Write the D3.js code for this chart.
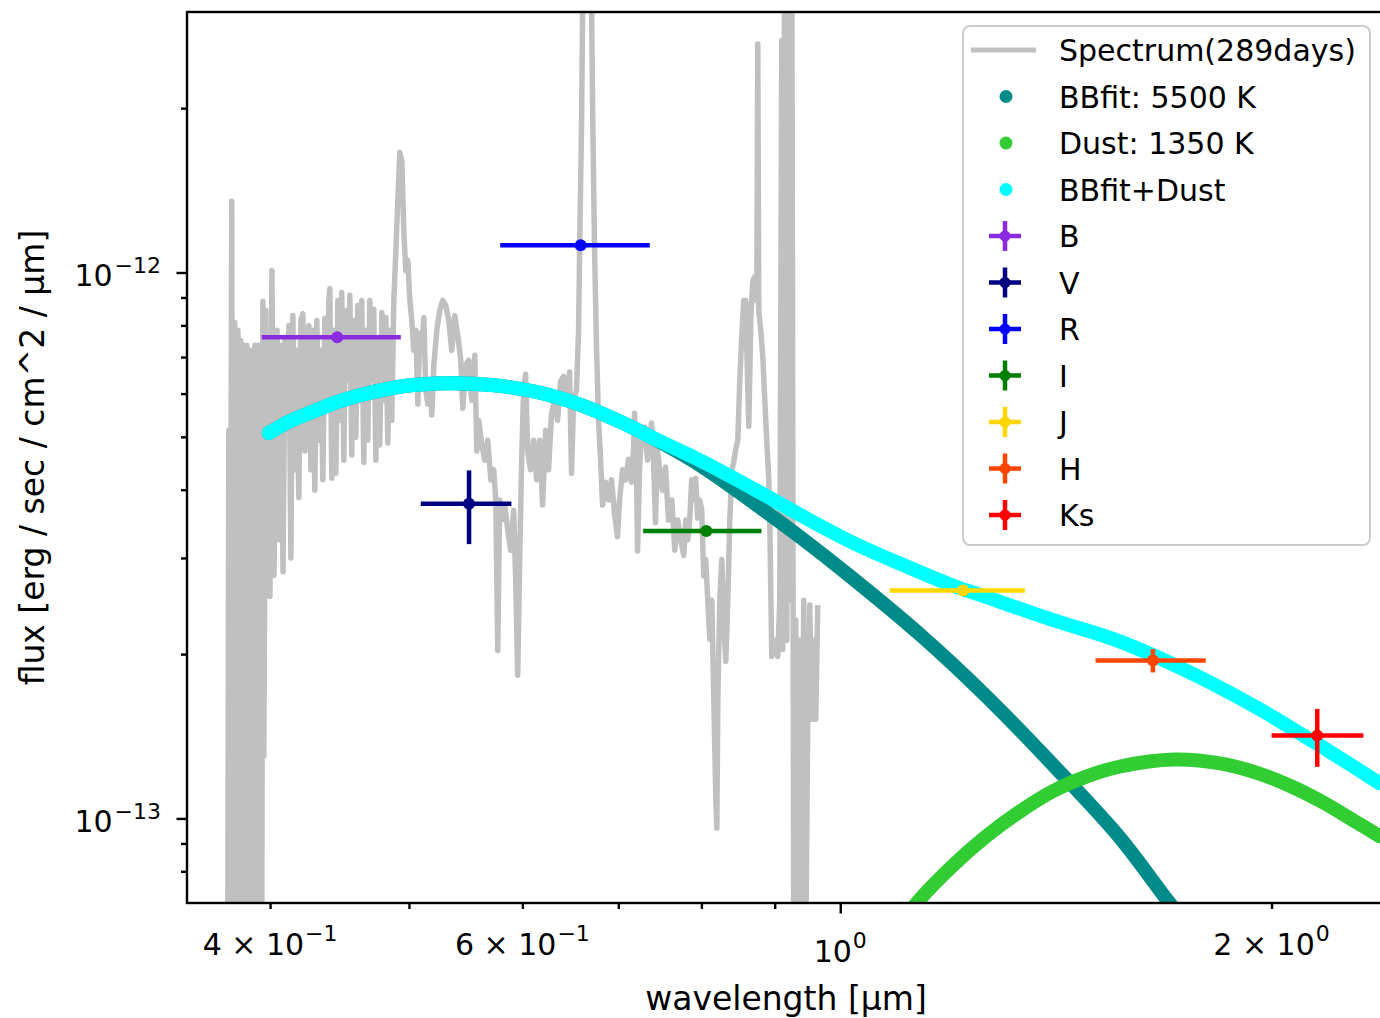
<!DOCTYPE html>
<html><head><meta charset="utf-8">
<script src="https://cdn.jsdelivr.net/npm/d3@7"></script>
<style>
body{margin:0;background:#fff;}
text{font-family:"DejaVu Sans",sans-serif;fill:#000;}
</style>
</head><body>
<svg id="c" width="1380" height="1018"></svg>
<script>
// ---------------- DATA (wavelength in µm, flux in units of 1e-13 erg/s/cm^2/µm) ----------------
const spectrum = [[0.3737,0.57],[0.3743,5.14],[0.3749,0.57],[0.3761,13.5],[0.3767,0.57],[0.3779,8.10],[0.3785,0.57],[0.3798,7.84],[0.3804,0.57],[0.3816,7.51],[0.3822,0.57],[0.3834,7.36],[0.3841,0.57],[0.3853,7.36],[0.3859,0.57],[0.3872,7.20],[0.3878,0.57],[0.3884,6.37],[0.3890,0.57],[0.3903,7.36],[0.3909,0.57],[0.3922,7.36],[0.3928,0.57],[0.3941,7.36],[0.3947,0.57],[0.3954,8.85],[0.3960,1.30],[0.3973,8.52],[0.3979,2.55],[0.3992,7.51],[0.3999,2.55],[0.4012,10.08],[0.4025,2.79],[0.4045,7.84],[0.4058,3.24],[0.4071,7.36],[0.4084,2.83],[0.4097,7.61],[0.4110,5.36],[0.4123,8.00],[0.4136,3.00],[0.4149,8.34],[0.4162,4.35],[0.4176,7.20],[0.4189,3.87],[0.4203,8.17],[0.4216,8.41],[0.4230,4.71],[0.4243,6.91],[0.4257,8.00],[0.4271,4.35],[0.4284,7.84],[0.4298,3.99],[0.4312,8.17],[0.4326,4.93],[0.4340,7.20],[0.4354,4.17],[0.4368,8.24],[0.4382,5.83],[0.4396,8.89],[0.4403,9.35],[0.4417,4.20],[0.4431,7.84],[0.4446,4.29],[0.4460,8.89],[0.4474,5.36],[0.4488,9.19],[0.4503,4.53],[0.4517,8.52],[0.4532,6.35],[0.4547,9.08],[0.4561,4.63],[0.4576,8.17],[0.4591,4.99],[0.4605,8.70],[0.4620,5.83],[0.4635,8.89],[0.4650,4.49],[0.4665,7.84],[0.4680,4.93],[0.4695,8.89],[0.4710,6.35],[0.4725,8.56],[0.4741,4.53],[0.4756,7.51],[0.4771,4.83],[0.4787,8.45],[0.4802,5.83],[0.4818,8.27],[0.4833,4.87],[0.4849,7.84],[0.4864,5.36],[0.4880,8.89],[0.4896,10.97],[0.4911,13.54],[0.4927,16.58],[0.4943,16.03],[0.4959,11.93],[0.4975,10.08],[0.4991,10.52],[0.5007,8.89],[0.5023,8.17],[0.5039,7.20],[0.5056,7.84],[0.5072,5.74],[0.5088,7.74],[0.5104,7.20],[0.5121,8.27],[0.5137,6.09],[0.5154,5.74],[0.5170,6.35],[0.5187,5.48],[0.5204,6.76],[0.5229,7.84],[0.5254,8.52],[0.5279,8.89],[0.5305,8.70],[0.5331,8.17],[0.5356,7.20],[0.5382,8.34],[0.5408,7.67],[0.5434,6.91],[0.5452,5.64],[0.5478,6.76],[0.5504,6.91],[0.5531,5.83],[0.5558,7.05],[0.5576,4.71],[0.5594,5.36],[0.5621,4.83],[0.5648,4.53],[0.5675,4.93],[0.5703,4.17],[0.5730,4.35],[0.5749,3.83],[0.5767,2.03],[0.5785,3.83],[0.5804,3.52],[0.5832,3.75],[0.5860,3.38],[0.5888,3.10],[0.5917,3.67],[0.5936,2.73],[0.5955,1.83],[0.5974,2.98],[0.5993,4.53],[0.6012,6.09],[0.6031,6.51],[0.6051,4.71],[0.6080,4.35],[0.6109,4.93],[0.6139,4.17],[0.6169,4.93],[0.6198,3.75],[0.6228,5.14],[0.6258,4.35],[0.6288,5.52],[0.6318,5.83],[0.6349,5.36],[0.6380,6.32],[0.6410,6.45],[0.6441,5.83],[0.6473,6.57],[0.6493,4.29],[0.6514,5.83],[0.6545,6.09],[0.6567,7.84],[0.6578,10.97],[0.6599,18.96],[0.6620,48],[0.6663,48],[0.6695,48],[0.6716,20.6],[0.6738,10.97],[0.6760,7.20],[0.6781,5.36],[0.6803,4.55],[0.6825,3.75],[0.6858,4.13],[0.6891,3.83],[0.6924,4.17],[0.6958,3.61],[0.6991,3.28],[0.7014,3.83],[0.7048,4.35],[0.7082,4.17],[0.7116,4.55],[0.7150,4.13],[0.7173,4.73],[0.7185,5.52],[0.7208,4.35],[0.7220,3.09],[0.7243,4.35],[0.7266,5.14],[0.7301,5.21],[0.7337,4.53],[0.7363,4.93],[0.7384,5.30],[0.7408,4.53],[0.7431,3.48],[0.7455,4.73],[0.7482,4.35],[0.7515,3.99],[0.7552,4.40],[0.7588,3.52],[0.7629,3.83],[0.7665,3.10],[0.7702,3.52],[0.7739,3.24],[0.7776,3.03],[0.7801,3.52],[0.7826,3.24],[0.7851,3.52],[0.7876,4.17],[0.7901,3.83],[0.7927,4.20],[0.7952,3.55],[0.7978,3.83],[0.8004,3.67],[0.8030,2.78],[0.8056,2.98],[0.8082,2.51],[0.8109,2.13],[0.8135,2.51],[0.8161,1.65],[0.8188,1.08],[0.8201,0.96],[0.8214,1.65],[0.8240,2.51],[0.8267,2.98],[0.8293,2.31],[0.8320,1.94],[0.8347,2.51],[0.8374,3.52],[0.8401,4.35],[0.8428,4.51],[0.8455,4.75],[0.8482,4.93],[0.8509,6.35],[0.8537,7.70],[0.8564,8.89],[0.8592,8.89],[0.8606,7.20],[0.8633,5.23],[0.8661,8.17],[0.8689,9.67],[0.8717,9.83],[0.8745,8.89],[0.8759,26.2],[0.8773,8.48],[0.8801,7.84],[0.8830,6.99],[0.8858,5.83],[0.8886,4.93],[0.8915,4.17],[0.8929,3.52],[0.8958,1.98],[0.9001,2.12],[0.9045,1.98],[0.9074,2.51],[0.9103,26.6],[0.9117,2.04],[0.9147,48],[0.9176,2.12],[0.9205,48],[0.9235,2.51],[0.9250,48],[0.9280,0.57],[0.9310,2.31],[0.9340,0.57],[0.9370,2.12],[0.9400,0.57],[0.9430,2.51],[0.9461,0.57],[0.9491,1.52],[0.9522,2.46],[0.9552,1.52],[0.9583,2.12],[0.9614,1.52],[0.9645,2.46]];

// blackbody 5500 K fit (drawn as dense dots)
const bbFit = [[0.3992,5.08],[0.4128,5.34],[0.4291,5.57],[0.4473,5.81],[0.4621,5.96],[0.4951,6.19],[0.5323,6.27],[0.5711,6.22],[0.6141,6.04],[0.6601,5.71],[0.7085,5.27],[0.7362,5.01],[0.7979,4.44],[0.8648,3.83],[0.9370,3.28],[1.0154,2.78],[1.1325,2.19],[1.2612,1.685],[1.4070,1.255],[1.5668,0.923],[1.692,0.708],[1.739,0.648]];
// dust 1350 K
const dustFit = [[1.1092,0.654],[1.1318,0.702],[1.1950,0.814],[1.2616,0.923],[1.3321,1.026],[1.4065,1.121],[1.4850,1.193],[1.5679,1.245],[1.7108,1.282],[1.8456,1.260],[1.9490,1.214],[2.0576,1.149],[2.1727,1.070],[2.2939,0.983],[2.379,0.928]];
// BBfit + Dust
const sumFit = [[0.3992,5.08],[0.4128,5.34],[0.4291,5.57],[0.4473,5.81],[0.4621,5.96],[0.4951,6.19],[0.5323,6.27],[0.5711,6.22],[0.6141,6.04],[0.6601,5.71],[0.7085,5.27],[0.7362,5.01],[0.7979,4.53],[0.8648,4.05],[0.9370,3.60],[1.0154,3.22],[1.1004,2.93],[1.1942,2.68],[1.2612,2.55],[1.4070,2.31],[1.5668,2.11],[1.7474,1.86],[1.9497,1.60],[2.171,1.35],[2.379,1.16]];

// photometry
const bands      = ["B","V","R","I","J","H","Ks"];
const bandColors = ["#8a2be2","#000080","#0000ff","#008000","#ffd700","#ff4500","#ff0000"];
const bandWave   = [0.4456,0.5507,0.6589,0.8064,1.2181,1.6528,2.1523];
const bandWaveLo = [0.3947,0.5096,0.5790,0.7285,1.0826,1.5072,2.0001];
const bandWaveHi = [0.4935,0.5895,0.7363,0.8811,1.3453,1.7993,2.3183];
const bandFlux   = [7.61,3.77,11.22,3.36,2.615,1.947,1.418];
const bandFluxLo = [7.61,3.18,11.22,3.36,2.615,1.851,1.243];
const bandFluxHi = [7.61,4.34,11.22,3.36,2.615,2.043,1.587];

const fitLabels = ["BBfit: 5500 K","Dust: 1350 K","BBfit+Dust"];
const fitColors = ["#008b8b","#32cd32","#00ffff"];
const spectrumLabel = "Spectrum(289days)";

// axes / ticks
const xDomain = [0.35, 2.4];
const yDomain = [7e-14, 3e-12];
const xMajorTicks = [1];
const xMinorTicks = [0.4,0.5,0.6,0.7,0.8,0.9,2];
const xTickLabels = [[0.4,"4 × 10","−1",false],[0.6,"6 × 10","−1",false],[1,"10","0",true],[2,"2 × 10","0",false]];
const yMajorTicks = [1e-13,1e-12];
const yMinorTicks = [8e-14,9e-14,2e-13,3e-13,4e-13,5e-13,6e-13,7e-13,8e-13,9e-13,2e-12];
const yTickLabels = [[1e-13,"10","−13"],[1e-12,"10","−12"]];
const xLabel = "wavelength [µm]";
const yLabel = "flux [erg / sec / cm^2 / µm]";

// ---------------- DRAW ----------------
const U = 1e-13;
const m = {left:187, right:1385, top:12, bottom:903};
const x = d3.scaleLog().domain(xDomain).range([m.left, m.right]);
const y = d3.scaleLog().domain(yDomain).range([m.bottom, m.top]);
const svg = d3.select("#c");

svg.append("defs").append("clipPath").attr("id","clip")
  .append("rect").attr("x",m.left).attr("y",m.top)
  .attr("width",m.right-m.left).attr("height",m.bottom-m.top);

const plot = svg.append("g").attr("clip-path","url(#clip)");
const line = d3.line().x(d=>x(d[0])).y(d=>y(d[1]*U));
const smooth = d3.line().x(d=>x(d[0])).y(d=>y(d[1]*U)).curve(d3.curveCatmullRom.alpha(0.5));

plot.append("path").datum(spectrum).attr("d",line)
  .attr("fill","none").attr("stroke","#c0c0c0").attr("stroke-width",5.5)
  .attr("stroke-linejoin","round");

[bbFit, dustFit, sumFit].forEach((s,i)=>{
  plot.append("path").datum(s).attr("d",smooth)
    .attr("fill","none").attr("stroke",fitColors[i]).attr("stroke-width",14)
    .attr("stroke-linecap","round").attr("stroke-linejoin","round");
});

// error bars
const eb = plot.append("g");
bands.forEach((b,i)=>{
  const g = eb.append("g").attr("stroke",bandColors[i]).attr("fill",bandColors[i]);
  g.append("line").attr("x1",x(bandWaveLo[i])).attr("x2",x(bandWaveHi[i]))
    .attr("y1",y(bandFlux[i]*U)).attr("y2",y(bandFlux[i]*U)).attr("stroke-width",4.5);
  if (bandFluxHi[i] !== bandFluxLo[i]) {
    g.append("line").attr("x1",x(bandWave[i])).attr("x2",x(bandWave[i]))
      .attr("y1",y(bandFluxLo[i]*U)).attr("y2",y(bandFluxHi[i]*U)).attr("stroke-width",4.5);
  }
  g.append("circle").attr("cx",x(bandWave[i])).attr("cy",y(bandFlux[i]*U)).attr("r",6).attr("stroke","none");
});

// axes
function styleAxis(g){
  g.select(".domain").remove();
  g.selectAll(".tick line").attr("stroke","#000").attr("stroke-width",2.4);
  g.selectAll(".tick text").remove();
}
svg.append("g").attr("transform",`translate(0,${m.bottom})`)
  .call(d3.axisBottom(x).tickValues(xMinorTicks).tickSize(6).tickFormat(""))
  .call(styleAxis);
svg.append("g").attr("transform",`translate(0,${m.bottom})`)
  .call(d3.axisBottom(x).tickValues(xMajorTicks).tickSize(10.5).tickFormat(""))
  .call(styleAxis);
svg.append("g").attr("transform",`translate(${m.left},0)`)
  .call(d3.axisLeft(y).tickValues(yMinorTicks).tickSize(6).tickFormat(""))
  .call(styleAxis);
svg.append("g").attr("transform",`translate(${m.left},0)`)
  .call(d3.axisLeft(y).tickValues(yMajorTicks).tickSize(10.5).tickFormat(""))
  .call(styleAxis);

// spines
svg.append("rect").attr("x",m.left).attr("y",m.top).attr("width",m.right-m.left).attr("height",m.bottom-m.top)
  .attr("fill","none").attr("stroke","#000").attr("stroke-width",2.4);

// tick labels
xTickLabels.forEach(([v,mant,exp,major])=>{
  const t = svg.append("text").attr("x",x(v)).attr("y",major?962:955)
    .attr("text-anchor","middle").attr("font-size",30);
  t.append("tspan").text(mant);
  t.append("tspan").attr("font-size",22).attr("dx",1).attr("dy",-14).text(exp);
});
yTickLabels.forEach(([v,mant,exp])=>{
  const t = svg.append("text").attr("x",161).attr("y",y(v)+14)
    .attr("text-anchor","end").attr("font-size",30);
  t.append("tspan").text(mant);
  t.append("tspan").attr("font-size",22).attr("dx",2).attr("dy",-13).text(exp);
});

// axis labels
svg.append("text").attr("x",(m.left+m.right)/2).attr("y",1010)
  .attr("text-anchor","middle").attr("font-size",33).text(xLabel);
svg.append("text").attr("transform",`translate(44,${(m.top+m.bottom)/2}) rotate(-90)`)
  .attr("text-anchor","middle").attr("font-size",33).text(yLabel);

// legend
const lg = svg.append("g");
lg.append("rect").attr("x",963).attr("y",26).attr("width",407).attr("height",519).attr("rx",7)
  .attr("fill","#fff").attr("fill-opacity",0.8).attr("stroke","#cccccc").attr("stroke-width",2);
const rowY = i => 50 + 46.5*i;
const textX = 1059;
lg.append("line").attr("x1",971).attr("x2",1036).attr("y1",rowY(0)).attr("y2",rowY(0))
  .attr("stroke","#c0c0c0").attr("stroke-width",5);
lg.append("text").attr("x",textX).attr("y",rowY(0)+11).attr("font-size",30).text(spectrumLabel);
fitLabels.forEach((l,i)=>{
  lg.append("circle").attr("cx",1006).attr("cy",rowY(i+1)).attr("r",6.5).attr("fill",fitColors[i]);
  lg.append("text").attr("x",textX).attr("y",rowY(i+1)+11).attr("font-size",30).text(l);
});
bands.forEach((b,i)=>{
  const cy = rowY(i+4);
  const g = lg.append("g").attr("stroke",bandColors[i]).attr("fill",bandColors[i]);
  g.append("line").attr("x1",989).attr("x2",1021).attr("y1",cy).attr("y2",cy).attr("stroke-width",4.5);
  g.append("line").attr("x1",1005).attr("x2",1005).attr("y1",cy-15).attr("y2",cy+15).attr("stroke-width",4.5);
  g.append("circle").attr("cx",1005).attr("cy",cy).attr("r",5.5).attr("stroke","none");
  lg.append("text").attr("x",textX).attr("y",cy+11).attr("font-size",30).text(b);
});
</script>
</body></html>
